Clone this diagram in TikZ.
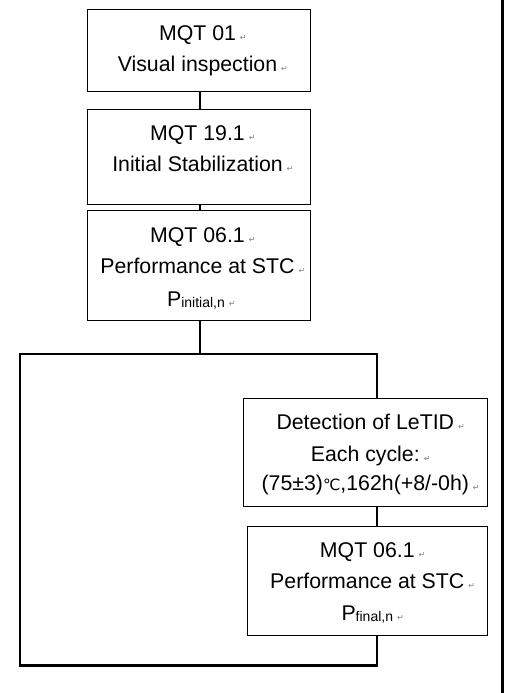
\documentclass[tikz,border=0pt]{standalone}
\usepackage{fontspec}
\setmainfont{Liberation Sans}
\newfontfamily\markfont{DejaVu Sans}
\newcommand{\pmark}{\rlap{\hspace{4pt}{\markfont\fontsize{8}{9}\selectfont\color{gray}↵}}}
\newcommand{\degc}{{\markfont\fontsize{15.5}{16}\selectfont ℃}}
\tikzset{
  box/.style={draw, line width=1pt, inner sep=0pt},
  conn/.style={line width=2.3pt, line join=miter},
  txt/.style={anchor=base, inner sep=0pt, font=\fontsize{21.3}{24}\selectfont},
}
\begin{document}
\begin{tikzpicture}[x=1pt,y=-1pt]
\fill[white] (0,0) rectangle (504,693);
\useasboundingbox (0,0) rectangle (504,693);
\fill[black] (501,0) rectangle (504,693);

\node[box, minimum width=223pt, minimum height=82pt] (b1) at (198.5,50.6) {};
\node[box, minimum width=223pt, minimum height=94.5pt] (b2) at (198.5,156.75) {};
\node[box, minimum width=223pt, minimum height=110pt] (b3) at (198.5,265.6) {};
\node[box, minimum width=244pt, minimum height=108.4pt] (b4) at (365.3,452.5) {};
\node[box, minimum width=240pt, minimum height=109pt] (b5) at (367.3,580.5) {};

\node[txt] (t1a) at (197.5,40.7) {MQT 01\pmark};
\node[txt] (t1b) at (197.5,71.7) {Visual inspection\pmark};
\node[txt] (t2a) at (197.5,140) {MQT 19.1\pmark};
\node[txt] (t2b) at (197.5,171) {Initial Stabilization\pmark};
\node[txt] (t3a) at (197.5,242) {MQT 06.1\pmark};
\node[txt] (t3b) at (197.5,273) {Performance at STC\pmark};
\node[txt] (t3c) at (196,306) {P\raisebox{-1.5pt}{\fontsize{14}{15}\selectfont initial,n}\pmark};
\node[txt] (t4a) at (365.3,429) {Detection of LeTID\pmark};
\node[txt] (t4b) at (365.3,461) {Each cycle:\pmark};
\node[txt] (t4c) at (365.3,490) {(75±3)\degc,162h(+8/-0h)\pmark};
\node[txt] (t5a) at (367.3,557) {MQT 06.1\pmark};
\node[txt] (t5b) at (367.3,588) {Performance at STC\pmark};
\node[txt] (t5c) at (367.3,620) {P\raisebox{-1.5pt}{\fontsize{14}{15}\selectfont final,n}\pmark};

\coordinate (ax) at (200,0);
\coordinate (rx) at (376.7,0);
\coordinate (split) at (200,354);
\coordinate (tl) at (20,354);
\coordinate (tr) at (376.7,354);
\coordinate (bl) at (20,665.5);
\coordinate (br) at (376.7,665.5);

\draw[conn] (b1.south -| ax) -- (b2.north -| ax);
\draw[conn] (b2.south -| ax) -- (b3.north -| ax);
\draw[conn] (b3.south -| ax) -- (split);
\draw[conn] (b4.south -| rx) -- (b5.north -| rx);
\draw[conn] (b5.south -| rx) -- (br) -- (bl) -- (tl) -- (tr) -- (b4.north -| rx);
\end{tikzpicture}
\end{document}
